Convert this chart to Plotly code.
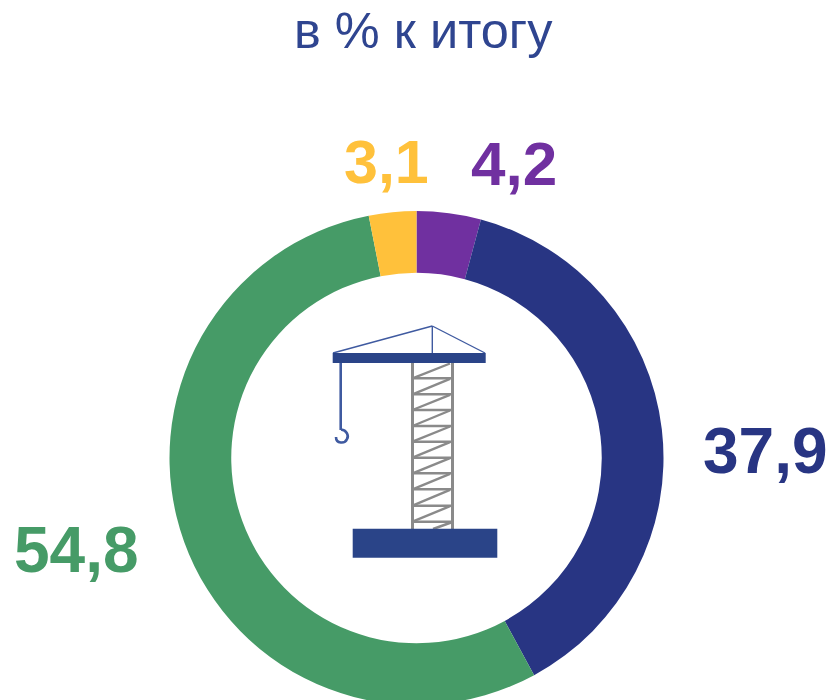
import plotly.graph_objects as go

# Data
labels = ["Фиолетовый", "Синий", "Зелёный", "Жёлтый"]
values = [4.2, 37.9, 54.8, 3.1]
value_labels = ["4,2", "37,9", "54,8", "3,1"]
colors = ["#7030A0", "#283583", "#469B67", "#FFC13B"]
label_centers = [(513.5, 164), (765, 451), (76, 550), (386, 162)]
label_sizes = [62, 64, 64, 61]
title_text = "в % к итогу"

W, H = 830, 720
FONT = "Liberation Sans, Arial, sans-serif"
CX, CY, R = 416.5, 458, 247
BAR = "#2A4488"
LINE = "#3F5AA0"
GRAY = "#8A8A8A"

def px(x):
    return x / W

def py(y):
    return 1 - y / H

def line(x0, y0, x1, y1, color, width):
    return dict(type="line", xref="paper", yref="paper",
                x0=px(x0), y0=py(y0), x1=px(x1), y1=py(y1),
                line=dict(color=color, width=width), layer="above")

def rect(x0, y0, x1, y1, color):
    return dict(type="rect", xref="paper", yref="paper",
                x0=px(x0), y0=py(y0), x1=px(x1), y1=py(y1),
                fillcolor=color, line=dict(width=0), layer="above")

fig = go.Figure(go.Pie(
    labels=labels, values=values, hole=0.75, sort=False, direction="clockwise",
    rotation=0, textinfo="none", hoverinfo="label+value", showlegend=False,
    marker=dict(colors=colors, line=dict(width=0)),
    domain=dict(x=[px(CX - R), px(CX + R)], y=[py(CY + R), py(CY - R)]),
))

shapes = []
# tower
rung_y = [378.3, 394.3, 410, 426, 441.7, 457.7, 473.3, 489.3, 505.7, 521.7]
prev = 363
for y in rung_y:
    shapes.append(line(412.5, y, 452.5, y, GRAY, 2.4))
    shapes.append(line(412.5, y, 450, prev + 0.5, GRAY, 2.4))
    prev = y
shapes.append(line(433, 529, 452.5, 522, GRAY, 2.4))
shapes.append(line(412.5, 363, 412.5, 529, GRAY, 3))
shapes.append(line(452.5, 363, 452.5, 529, GRAY, 3))
# jib and cables
shapes.append(line(333, 353, 432.3, 326, LINE, 1.4))
shapes.append(line(432.3, 326, 485, 353, LINE, 1.4))
shapes.append(line(432.3, 326, 432.3, 353, LINE, 1.4))
shapes.append(rect(332.7, 353, 485.7, 363, BAR))
# hook
shapes.append(line(340.7, 363, 340.7, 430, LINE, 2.6))
shapes.append(dict(
    type="path", xref="paper", yref="paper", layer="above",
    path=(f"M {px(341)} {py(429.5)} C {px(347)} {py(430)} {px(349)} {py(436)} {px(347)} {py(439)} "
          f"C {px(345)} {py(444)} {px(336)} {py(444)} {px(336)} {py(437)}"),
    line=dict(color=LINE, width=2.6),
))
# base
shapes.append(rect(352.7, 528.7, 497.3, 557.7, BAR))

annotations = [dict(
    text=title_text, x=px(423.5), y=py(31), xref="paper", yref="paper",
    showarrow=False, xanchor="center", yanchor="middle",
    font=dict(family=FONT, size=50.5, color="#2F4590"),
)]
for t, (x, y), c, s in zip(value_labels, label_centers, colors, label_sizes):
    annotations.append(dict(
        text=f"<b>{t}</b>", x=px(x), y=py(y), xref="paper", yref="paper",
        showarrow=False, xanchor="center", yanchor="middle",
        font=dict(family=FONT, size=s, color=c),
    ))

fig.update_layout(
    width=W, height=H, margin=dict(l=0, r=0, t=0, b=0),
    paper_bgcolor="white", plot_bgcolor="white",
    shapes=shapes, annotations=annotations,
)

fig.write_html("out.html", config=dict(displayModeBar=False),
               post_script="document.body.style.margin='0';document.documentElement.style.overflow='hidden';document.body.style.overflow='hidden';")
